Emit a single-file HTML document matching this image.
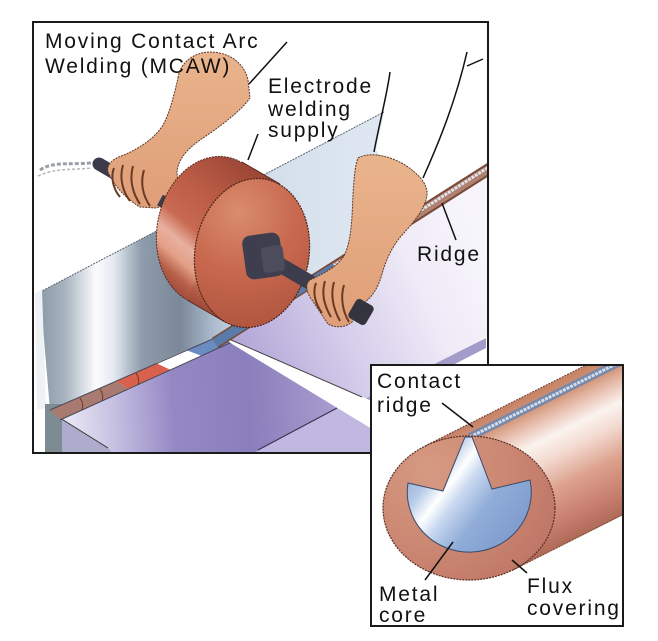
<!DOCTYPE html>
<html><head><meta charset="utf-8"><style>
html,body{margin:0;padding:0;background:#fff;}
svg{display:block;}
text{font-family:"Liberation Sans",Arial,sans-serif;font-size:21px;letter-spacing:1.8px;fill:#111;}
</style></head><body>
<svg width="658" height="641" viewBox="0 0 658 641" xmlns="http://www.w3.org/2000/svg">
<defs>
 <clipPath id="mainclip"><rect x="34" y="23" width="453" height="429"/></clipPath>
 <clipPath id="insclip"><rect x="372" y="366" width="250" height="259"/></clipPath>
 <linearGradient id="upr" gradientUnits="userSpaceOnUse" x1="40" y1="0" x2="390" y2="0">
   <stop offset="0" stop-color="#8c9aa8"/>
   <stop offset="0.07" stop-color="#a6b2be"/>
   <stop offset="0.16" stop-color="#fbfcfd"/>
   <stop offset="0.21" stop-color="#e4eaf0"/>
   <stop offset="0.29" stop-color="#8e9cac"/>
   <stop offset="0.4" stop-color="#7a8898"/>
   <stop offset="0.5" stop-color="#aebed0"/>
   <stop offset="0.6" stop-color="#d2deea"/>
   <stop offset="1" stop-color="#e0e8f2"/>
 </linearGradient>
 <linearGradient id="rpl" gradientUnits="userSpaceOnUse" x1="240" y1="340" x2="480" y2="230">
   <stop offset="0" stop-color="#b4a8d8"/>
   <stop offset="0.35" stop-color="#d4ccea"/>
   <stop offset="0.7" stop-color="#eeeaf7"/>
   <stop offset="1" stop-color="#f8f6fc"/>
 </linearGradient>
 <linearGradient id="fpl" gradientUnits="userSpaceOnUse" x1="70" y1="440" x2="370" y2="420">
   <stop offset="0" stop-color="#e8e6f4"/>
   <stop offset="0.15" stop-color="#c6c0e2"/>
   <stop offset="0.35" stop-color="#9488c4"/>
   <stop offset="0.6" stop-color="#8a7ebc"/>
   <stop offset="0.85" stop-color="#a498cc"/>
   <stop offset="1" stop-color="#beb6dc"/>
 </linearGradient>
 <linearGradient id="skin" x1="0" y1="0" x2="0" y2="1">
   <stop offset="0" stop-color="#e9b48c"/>
   <stop offset="1" stop-color="#df9e78"/>
 </linearGradient>
 <linearGradient id="side" gradientUnits="userSpaceOnUse" x1="225" y1="322" x2="298" y2="195">
   <stop offset="0" stop-color="#9c4a3a"/>
   <stop offset="0.1" stop-color="#b86048"/>
   <stop offset="0.2" stop-color="#e4a088"/>
   <stop offset="0.3" stop-color="#e8b0a0"/>
   <stop offset="0.42" stop-color="#c86a52"/>
   <stop offset="0.7" stop-color="#b85a44"/>
   <stop offset="1" stop-color="#9c4636"/>
 </linearGradient>
 <radialGradient id="front" gradientUnits="userSpaceOnUse" cx="232" cy="215" r="115">
   <stop offset="0" stop-color="#d98c6e"/>
   <stop offset="0.5" stop-color="#c8694f"/>
   <stop offset="1" stop-color="#b25640"/>
 </radialGradient>
 <linearGradient id="body" gradientUnits="userSpaceOnUse" x1="425" y1="446" x2="492" y2="580">
   <stop offset="0" stop-color="#c48266"/>
   <stop offset="0.1" stop-color="#d39478"/>
   <stop offset="0.2" stop-color="#e8c2b2"/>
   <stop offset="0.32" stop-color="#fbf3ef"/>
   <stop offset="0.45" stop-color="#f3dad0"/>
   <stop offset="0.65" stop-color="#dca08c"/>
   <stop offset="0.85" stop-color="#c88070"/>
   <stop offset="1" stop-color="#b06a58"/>
 </linearGradient>
 <radialGradient id="ring" gradientUnits="userSpaceOnUse" cx="430" cy="470" r="150">
   <stop offset="0" stop-color="#d69a82"/>
   <stop offset="0.6" stop-color="#c98470"/>
   <stop offset="1" stop-color="#bc7264"/>
 </radialGradient>
 <linearGradient id="core" gradientUnits="userSpaceOnUse" x1="400" y1="470" x2="520" y2="561">
   <stop offset="0" stop-color="#8aa2d4"/>
   <stop offset="0.2" stop-color="#b8cce8"/>
   <stop offset="0.32" stop-color="#ffffff"/>
   <stop offset="0.42" stop-color="#c8d8f0"/>
   <stop offset="0.6" stop-color="#90acd8"/>
   <stop offset="1" stop-color="#7894c8"/>
 </linearGradient>
</defs>

<!-- MAIN SCENE -->
<g clip-path="url(#mainclip)">
  <!-- right horizontal plate -->
  <polygon points="218,340 490,166 490,335 370,400" fill="url(#rpl)"/>
  <!-- right plate thickness band -->
  <polygon points="365,399 486,338 486,348 365,410" fill="#a49cc8"/>
  <!-- upright plate -->
  <polygon points="40,292 384,112 376,150 420,215 215,340 50,410" fill="url(#upr)"/>
  <line x1="40" y1="292" x2="384" y2="112" stroke="#5a6470" stroke-width="1" stroke-dasharray="2 1"/>
  <polygon points="35,293 42,289 46,408 37,410" fill="#eef2f4"/>
  <!-- front lower plate -->
  <polygon points="60,418 232,342 372,428 372,455 110,455" fill="url(#fpl)"/>
  <polygon points="250,455 337,408 372,428 372,455" fill="#c0b8e0"/>
  <line x1="258" y1="450" x2="337" y2="408" stroke="#3a3450" stroke-width="1.2"/>
  <!-- front thickness -->
  <polygon points="45,405 60,418 108,448 114,455 45,455" fill="#aeaccc"/>
  <rect x="45" y="404" width="17" height="50" fill="#7c8c92"/>
  <line x1="60" y1="418" x2="108" y2="448" stroke="#333" stroke-width="1"/>
  <!-- weld bead -->
  <polygon points="50,410 116,381 129,389 60,420" fill="#a87a70"/>
  <polygon points="116,381 156,363 171,370 129,389" fill="#d8604c"/>
  <polygon points="156,363 186,350 202,356 171,370" fill="#ffffff"/>
  <polygon points="186,350 215,338 232,342 202,356" fill="#6a8cc0"/>
  <path d="M80,398 q4,6 2,12 M100,389 q4,6 2,12 M136,373 q4,6 2,12" stroke="#6a3a2a" stroke-width="1" fill="none"/>
  <line x1="50" y1="410" x2="215" y2="338" stroke="#4a4a5a" stroke-width="1"/>
  <line x1="60" y1="420" x2="232" y2="342" stroke="#4a4a5a" stroke-width="1"/>
  <!-- white wedge -->
  <polygon points="222,336 372,401 372,429 232,344" fill="#ffffff"/>
  <line x1="222" y1="336" x2="362" y2="397" stroke="#444" stroke-width="1"/>
  <!-- rod / electrode -->
  <line x1="215" y1="343" x2="492" y2="167" stroke="#7a4a38" stroke-width="12"/>
  <line x1="215" y1="343" x2="492" y2="167" stroke="#b08070" stroke-width="8"/>
  <line x1="215" y1="341" x2="492" y2="165" stroke="#dfe4ec" stroke-width="3" stroke-dasharray="3 1"/>
  <line x1="215" y1="343" x2="335" y2="267" stroke="#5a7aaa" stroke-width="9"/>

  <!-- left cable + handle rod -->
  <path d="M40,170 C55,160 75,166 97,162" stroke="#9aa0a8" stroke-width="3" fill="none" stroke-dasharray="4 2"/>
  <path d="M38,176 C55,168 72,170 92,168" stroke="#b0b6bc" stroke-width="1.5" fill="none" stroke-dasharray="3 2"/>
  <line x1="99" y1="164" x2="205" y2="226" stroke="#3a3a48" stroke-width="13" stroke-linecap="round"/>
  <!-- left arm -->
  <path d="M178,78 C180,62 195,52 210,52 C228,52 244,62 248,80 L250,98 C240,112 218,128 200,140 C186,150 178,160 177,172 L178,185 C176,196 168,206 155,208 L140,207 C128,200 115,188 108,172 C106,164 114,158 124,155 C140,148 155,138 163,125 C170,112 174,95 178,78 Z" fill="url(#skin)" stroke="#5a3a2a" stroke-width="1" stroke-dasharray="2 1"/>
  <path d="M114,168 C110,178 114,190 120,197 M123,165 C119,178 123,192 130,201 M133,166 C129,180 133,194 140,204 M144,170 C140,183 143,196 150,206" stroke="#6a3a22" stroke-width="2" fill="none"/>
  <line x1="160" y1="200" x2="200" y2="222" stroke="#3a3a48" stroke-width="12"/>

  <!-- wheel -->
  <ellipse cx="214" cy="231" rx="57" ry="75" transform="rotate(10 214 231)" fill="url(#side)" stroke="#5a2a1c" stroke-width="1" stroke-dasharray="2 1"/>
  <polygon points="280,184 242,162 187,300 225,322" fill="url(#side)"/>
  <line x1="280" y1="184" x2="242" y2="162" stroke="#5a2a1c" stroke-width="1"/>
  <line x1="225" y1="322" x2="187" y2="300" stroke="#5a2a1c" stroke-width="1"/>
  <ellipse cx="252" cy="253" rx="57" ry="75" transform="rotate(10 252 253)" fill="url(#front)" stroke="#4a2418" stroke-width="1.2" stroke-dasharray="2 1"/>
  <!-- hub and shaft -->
  <line x1="268" y1="258" x2="356" y2="309" stroke="#3c3c4c" stroke-width="15"/>
  <rect x="244" y="234" width="38" height="44" rx="8" transform="rotate(-8 263 256)" fill="#3e3e4e"/>
  <rect x="262" y="246" width="22" height="26" rx="4" transform="rotate(-8 273 259)" fill="#4c4c5c"/>

  <!-- right arm -->
  <path d="M358,158 C372,150 398,158 412,170 C422,178 428,186 427,196 C424,210 414,222 403,234 C392,246 386,260 382,274 C378,288 372,298 362,304 L352,322 C345,328 335,328 328,324 L312,300 C306,292 305,284 310,280 C322,274 336,268 344,256 C352,240 352,215 353,195 C354,178 355,166 358,158 Z" fill="url(#skin)" stroke="#5a3a2a" stroke-width="1" stroke-dasharray="2 1"/>
  <path d="M316,283 C312,293 316,305 322,313 M325,281 C321,294 325,307 331,317 M334,282 C330,296 334,310 340,321 M344,285 C340,298 343,312 349,322" stroke="#6a3a22" stroke-width="2" fill="none"/>
  <rect x="-10" y="-11" width="20" height="22" rx="4" transform="translate(361,312) rotate(30)" fill="#34343f"/>

  <!-- arm lines -->
  <line x1="249" y1="84" x2="287" y2="42" stroke="#111" stroke-width="1.5"/>
  <path d="M374,152 C380,120 387,95 390,72" stroke="#111" stroke-width="1.5" fill="none"/>
  <path d="M423,178 C440,140 456,100 467,52 M467,66 L483,59" stroke="#111" stroke-width="1.5" fill="none"/>
  <!-- leaders -->
  <line x1="258" y1="134" x2="248" y2="160" stroke="#111" stroke-width="1.5"/>
  <line x1="442" y1="203" x2="456" y2="240" stroke="#111" stroke-width="1.5"/>
</g>
<rect x="33" y="22" width="455" height="431" fill="none" stroke="#1a1a1a" stroke-width="2"/>

<text x="45" y="48">Moving Contact Arc</text>
<text x="45" y="73">Welding (MCAW)</text>
<text x="268" y="93">Electrode</text>
<text x="268" y="116">welding</text>
<text x="268" y="137">supply</text>
<text x="417" y="261">Ridge</text>

<!-- INSET -->
<rect x="371" y="365" width="252" height="261" fill="#ffffff" stroke="#1a1a1a" stroke-width="2"/>
<g clip-path="url(#insclip)">
  <polygon points="425,446 825,246 913,370 513,570" fill="url(#body)"/>
  <line x1="425" y1="446" x2="640" y2="338" stroke="#6a3a2a" stroke-width="1" stroke-dasharray="2 1"/>
  <line x1="513" y1="570" x2="640" y2="506" stroke="#7a4a3a" stroke-width="1" stroke-dasharray="2 1"/>
  <line x1="470" y1="437" x2="640" y2="352" stroke="#7888a8" stroke-width="8"/>
  <line x1="470" y1="437" x2="640" y2="352" stroke="#d4deec" stroke-width="3" stroke-dasharray="3 1"/>
  <ellipse cx="469" cy="508" rx="86" ry="72" fill="url(#ring)" stroke="#5a2e22" stroke-width="1.2" stroke-dasharray="2 1"/>
  <path d="M408,483 L443,491 L465,437 L472,437 L492,489 L530,480 A62 60 0 1 1 408,483 Z" fill="url(#core)" stroke="#3a4a6a" stroke-width="1"/>
  <line x1="442" y1="403" x2="473" y2="427" stroke="#111" stroke-width="1.5"/>
  <line x1="425" y1="580" x2="453" y2="542" stroke="#111" stroke-width="1.5"/>
  <line x1="512" y1="560" x2="527" y2="573" stroke="#111" stroke-width="1.5"/>
</g>
<text x="377" y="388">Contact</text>
<text x="377" y="412">ridge</text>
<text x="379" y="601">Metal</text>
<text x="379" y="622">core</text>
<text x="527" y="593">Flux</text>
<text x="527" y="615">covering</text>
</svg>
</body></html>
